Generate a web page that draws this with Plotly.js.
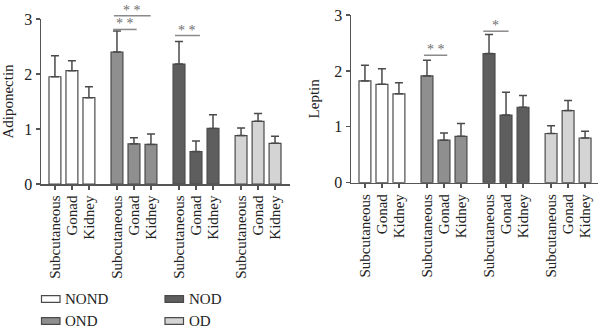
<!DOCTYPE html>
<html>
<head>
<meta charset="utf-8">
<script src="https://cdn.plot.ly/plotly-3.0.1.min.js"></script>
<style>html,body{margin:0;padding:0;background:#fff;}#chart{width:600px;height:332px;}</style>
</head>
<body>
<div id="chart"></div>
<script>
// ---- data ----
const groups = ['NOND', 'OND', 'NOD', 'OD'];
const tissues = ['Subcutaneous', 'Gonad', 'Kidney'];
const groupColors = ['#ffffff', '#8f8f8f', '#5e5e5e', '#d4d4d4'];

// Adiponectin (left panel): mean and upper SE per group [Subcutaneous, Gonad, Kidney]
const adipoNOND = [1.95, 2.06, 1.57];
const adipoOND  = [2.40, 0.73, 0.72];
const adipoNOD  = [2.18, 0.59, 1.01];
const adipoOD   = [0.88, 1.14, 0.74];
const adipoErrNOND = [0.38, 0.18, 0.20];
const adipoErrOND  = [0.38, 0.11, 0.19];
const adipoErrNOD  = [0.41, 0.19, 0.25];
const adipoErrOD   = [0.14, 0.14, 0.13];

// Leptin (right panel)
const leptinNOND = [1.82, 1.76, 1.59];
const leptinOND  = [1.91, 0.76, 0.83];
const leptinNOD  = [2.31, 1.21, 1.35];
const leptinOD   = [0.88, 1.29, 0.80];
const leptinErrNOND = [0.28, 0.28, 0.20];
const leptinErrOND  = [0.28, 0.13, 0.23];
const leptinErrNOD  = [0.34, 0.41, 0.21];
const leptinErrOD   = [0.14, 0.18, 0.12];

// significance brackets: [x0, x1, y-line, label]
const adipoSig = [
  [3.47, 5.63, 3.06, '* *'],
  [3.43, 4.81, 2.81, '* *'],
  [7.06, 8.53, 2.70, '* *']
];
const leptinSig = [
  [3.47, 4.84, 2.28, '* *'],
  [6.96, 8.45, 2.71, '*']
];

const yTicks = [0, 1, 2, 3];

// ---- layout helpers ----
const GROUP_STEP = 3.65;
function xPos(g) { return tissues.map((t, i) => g * GROUP_STEP + i); }
const allX = [], allText = [];
groups.forEach((g, gi) => { xPos(gi).forEach((x, i) => { allX.push(x); allText.push(tissues[i]); }); });

const adipo = [adipoNOND, adipoOND, adipoNOD, adipoOD];
const adipoErr = [adipoErrNOND, adipoErrOND, adipoErrNOD, adipoErrOD];
const leptin = [leptinNOND, leptinOND, leptinNOD, leptinOD];
const leptinErr = [leptinErrNOND, leptinErrOND, leptinErrNOD, leptinErrOD];

const edge = '#4a4a4a';
const font = 'Liberation Serif, Times New Roman, serif';
const traces = [];
function addPanel(vals, errs, xa, ya) {
  groups.forEach((g, gi) => {
    traces.push({
      type: 'bar', name: g, x: xPos(gi), y: vals[gi],
      xaxis: xa, yaxis: ya, width: 0.7, showlegend: false,
      marker: { color: groupColors[gi], line: { color: edge, width: 1.2 } },
      error_y: { type: 'data', array: errs[gi], symmetric: false, arrayminus: [0, 0, 0],
                 color: edge, thickness: 1.5, width: 4 },
      hoverinfo: 'x+y'
    });
  });
}
addPanel(adipo, adipoErr, 'x', 'y');
addPanel(leptin, leptinErr, 'x2', 'y2');

const shapes = [], annotations = [];
function addSig(list, xr, yr) {
  list.forEach(s => {
    shapes.push({ type: 'line', xref: xr, yref: yr + ' domain', x0: s[0], x1: s[1],
                  y0: s[2] / 3, y1: s[2] / 3, line: { color: '#8a8a8a', width: 1.5 } });
    annotations.push({ xref: xr, yref: yr + ' domain', x: (s[0] + s[1]) / 2, y: s[2] / 3,
                       yanchor: 'bottom', yshift: -4, text: s[3], showarrow: false,
                       font: { family: font, size: 14, color: '#6e6e6e' } });
  });
}
addSig(adipoSig, 'x', 'y');
addSig(leptinSig, 'x2', 'y2');

// manual legend (2 columns x 2 rows)
const legPos = [[41.5, 299], [41.5, 321], [165, 299], [165, 321]];
groups.forEach((g, gi) => {
  const [lx, ly] = legPos[gi];
  shapes.push({ type: 'rect', xref: 'paper', yref: 'paper',
                x0: lx / 600, x1: (lx + 18.5) / 600, y0: 1 - (ly + 3.3) / 332, y1: 1 - (ly - 3.3) / 332,
                fillcolor: groupColors[gi], line: { color: edge, width: 1.2 } });
  annotations.push({ xref: 'paper', yref: 'paper', x: (lx + 21.5) / 600, y: 1 - ly / 332,
                     xanchor: 'left', yanchor: 'middle', text: g, showarrow: false,
                     font: { family: font, size: 15, color: '#222' } });
});

function xAxis(domain, range, anchor) {
  return {
    domain: domain, range: range, anchor: anchor, tickmode: 'array', tickvals: allX, ticktext: allText,
    tickangle: -90, ticks: 'outside', ticklen: 4, tickwidth: 1.3, tickcolor: '#555',
    showline: true, linecolor: '#555', linewidth: 1.5, showgrid: false, zeroline: false,
    tickfont: { family: font, size: 15, color: '#222' }, fixedrange: true
  };
}
function yAxis(domain, anchor, title) {
  return {
    domain: domain, range: [0, 3], anchor: anchor, tickmode: 'array', tickvals: yTicks,
    ticks: 'outside', ticklen: 4, tickwidth: 1.3, tickcolor: '#555',
    showline: true, linecolor: '#555', linewidth: 1.5, showgrid: false, zeroline: false,
    tickfont: { family: font, size: 16, color: '#222' },
    title: { text: title, font: { family: font, size: 15, color: '#222' }, standoff: 11 },
    fixedrange: true
  };
}

const layout = {
  width: 600, height: 332, margin: { l: 0, r: 0, t: 0, b: 0 },
  paper_bgcolor: '#fff', plot_bgcolor: '#fff', showlegend: false, barmode: 'overlay',
  xaxis: xAxis([41 / 600, 290 / 600], [-0.82, 13.83], 'y'),
  yaxis: yAxis([1 - 184 / 332, 1 - 19 / 332], 'x', 'Adiponectin'),
  xaxis2: xAxis([351 / 600, 598 / 600], [-0.82, 13.71], 'y2'),
  yaxis2: yAxis([1 - 182.7 / 332, 1 - 15 / 332], 'x2', 'Leptin'),
  shapes: shapes, annotations: annotations
};

Plotly.newPlot('chart', traces, layout, { staticPlot: true, displayModeBar: false });
</script>
</body>
</html>
